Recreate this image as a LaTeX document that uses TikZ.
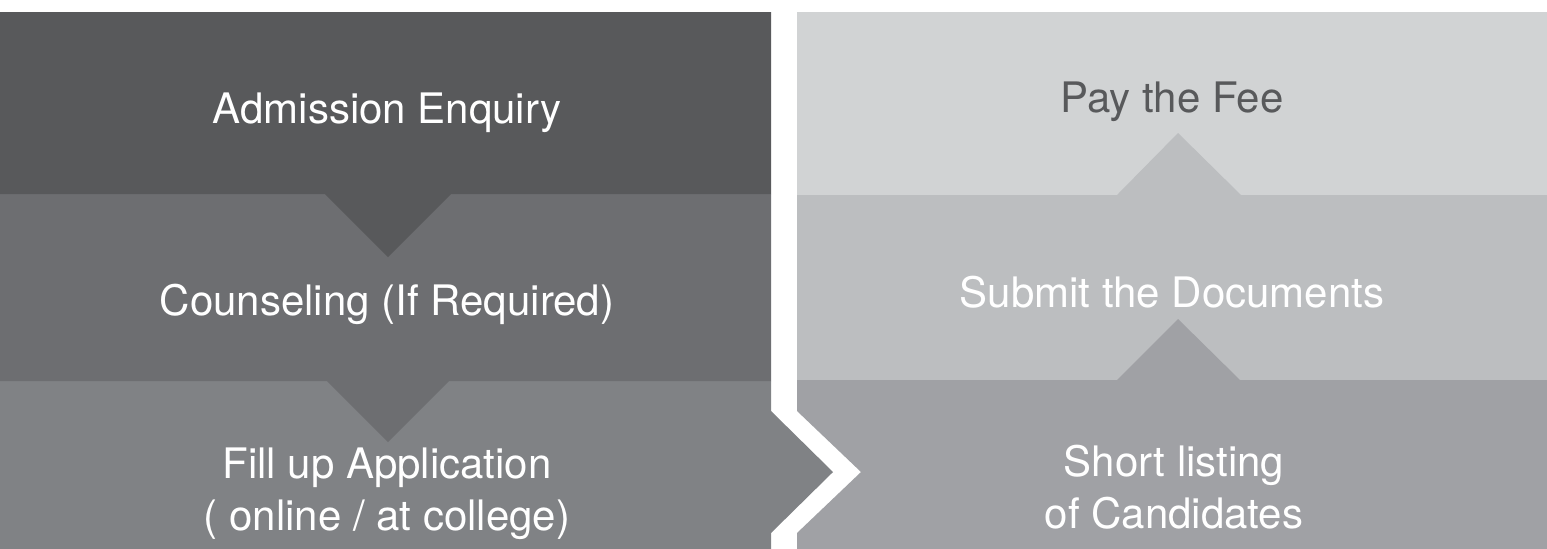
\documentclass[tikz,border=0pt]{standalone}
\usepackage{fontspec}
\setmainfont{TeX Gyre Heros}
\usetikzlibrary{positioning}
\definecolor{darkstep}{HTML}{58595B}
\definecolor{midstep}{HTML}{6D6E71}
\definecolor{lowstep}{HTML}{808285}
\definecolor{palestep}{HTML}{D1D3D4}
\definecolor{greystep}{HTML}{BCBEC0}
\definecolor{basestep}{HTML}{A0A1A5}
\tikzset{label text/.style={text=white,align=center,anchor=base,
    font=\fontsize{21}{26}\selectfont,inner sep=0pt}}

\begin{document}
\begin{tikzpicture}[x=0.5pt,y=-0.5pt]
  \useasboundingbox [fill=white] (0,0) rectangle (1547,548);
  % left column, top to bottom
  \fill [lowstep] (0,381) -- (771,381) -- (771,411) -- (833,472) -- (771,533)
    -- (771,549) -- (0,549) -- cycle;
  \fill [midstep] (0,194) -- (771,194) -- (771,381) -- (449,381) -- (388,442)
    -- (327,381) -- (0,381) -- cycle;
  \fill [darkstep] (0,12) -- (771,12) -- (771,194) -- (451,194) -- (388,257)
    -- (325,194) -- (0,194) -- cycle;
  % right column, bottom to top
  \fill [palestep] (797,12) rectangle (1547,195);
  \fill [greystep] (797,195) -- (1117,195) -- (1178,133) -- (1241,195)
    -- (1547,195) -- (1547,380) -- (797,380) -- cycle;
  \fill [basestep] (797,380) -- (1117,380) -- (1178,319) -- (1240,380)
    -- (1547,380) -- (1547,549) -- (797,549) -- (797,533) -- (861,472)
    -- (797,411) -- cycle;

  \node [label text] (enquiry) at (387,123) {Admission Enquiry};
  \node [label text] (counsel) at (387,315) {Counseling (If Required)};
  \node [label text] (apply) at (387,530) {Fill up Application\\( online / at college)};

  \node [label text] (shortlist) at (1174,528) {Short listing\\of Candidates};
  \node [label text] (docs) at (1172,307) {Submit the Documents};
  \node [label text,text=darkstep] (fee) at (1172,112) {Pay the Fee};
\end{tikzpicture}
\end{document}
